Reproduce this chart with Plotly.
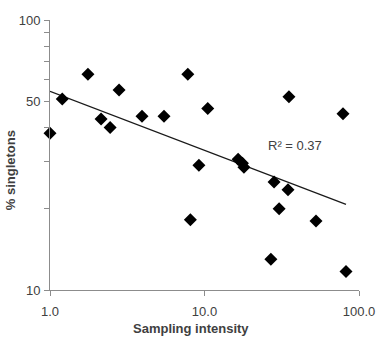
import numpy as np
import plotly.graph_objects as go

# Data
sampling_intensity = [1.0, 1.2, 1.76, 2.14, 2.45, 2.8, 3.94, 5.47, 7.8, 8.1, 9.2, 10.5,
                      16.5, 17.6, 18.0, 35.2, 78.8, 28.2, 34.7, 30.4, 52.7, 26.9, 82.4]
pct_singletons = [38.1, 51.0, 63.0, 43.0, 40.0, 55.0, 44.0, 44.0, 63.0, 18.2, 29.0, 47.0,
                  30.5, 29.5, 28.5, 52.0, 45.0, 25.1, 23.5, 20.0, 18.0, 13.0, 11.7]
y_tickvals = [10, 20, 30, 40, 50, 60, 70, 80, 90, 100]
y_ticktext = ["10", "", "", "", "50", "", "", "", "", "100"]
x_tickvals = [1, 10, 100]
x_ticktext = ["1.0", "10.0", "100.0"]
r2_label = "R² = 0.37"
x_title = "Sampling intensity"
y_title = "% singletons"

# Power trendline fit in log-log space
lx = np.log10(sampling_intensity)
ly = np.log10(pct_singletons)
b, a = np.polyfit(lx, ly, 1)
tx = np.array([min(sampling_intensity), max(sampling_intensity)])
ty = 10 ** (a + b * np.log10(tx))

fig = go.Figure()
fig.add_trace(go.Scatter(x=tx, y=ty, mode="lines",
                         line=dict(color="#1a1a1a", width=1.3), hoverinfo="skip"))
fig.add_trace(go.Scatter(x=sampling_intensity, y=pct_singletons, mode="markers",
                         cliponaxis=False,
                         marker=dict(symbol="diamond", size=10, color="black")))

fam = "Liberation Sans, Arial, sans-serif"
axis_font = dict(family=fam, size=13, color="#404040")
fig.update_layout(
    width=379, height=341,
    margin=dict(l=50, r=20, t=20, b=51),
    paper_bgcolor="white", plot_bgcolor="white",
    showlegend=False,
    xaxis=dict(type="log", range=[0, 2], tickvals=x_tickvals, ticktext=x_ticktext,
               automargin=False, ticklabelstandoff=4,
               showgrid=False, zeroline=False, showline=True, linecolor="#8c8c8c",
               linewidth=1, ticks="outside", ticklen=5, tickwidth=1, tickcolor="#8c8c8c",
               tickfont=axis_font),
    yaxis=dict(type="log", range=[1, 2], tickvals=y_tickvals, ticktext=y_ticktext,
               automargin=False, ticklabelstandoff=1,
               showgrid=False, zeroline=False, showline=True, linecolor="#8c8c8c",
               linewidth=1, ticks="outside", ticklen=5, tickwidth=1, tickcolor="#8c8c8c",
               tickfont=axis_font),
    annotations=[
        dict(x=0.794, y=0.534, xref="paper", yref="paper",
             xanchor="center", yanchor="middle",
             text=r2_label, showarrow=False,
             font=dict(family=fam, size=13, color="#404040")),
        dict(x=0.456, y=-0.144, xref="paper", yref="paper",
             xanchor="center", yanchor="middle",
             text="<b>" + x_title + "</b>", showarrow=False,
             font=dict(family=fam, size=13, color="#404040")),
        dict(x=-0.129, y=0.444, xref="paper", yref="paper",
             xanchor="center", yanchor="middle",
             text="<b>" + y_title + "</b>", showarrow=False, textangle=-90,
             font=dict(family=fam, size=13, color="#404040")),
    ],
)

fig.write_html("out.html")
